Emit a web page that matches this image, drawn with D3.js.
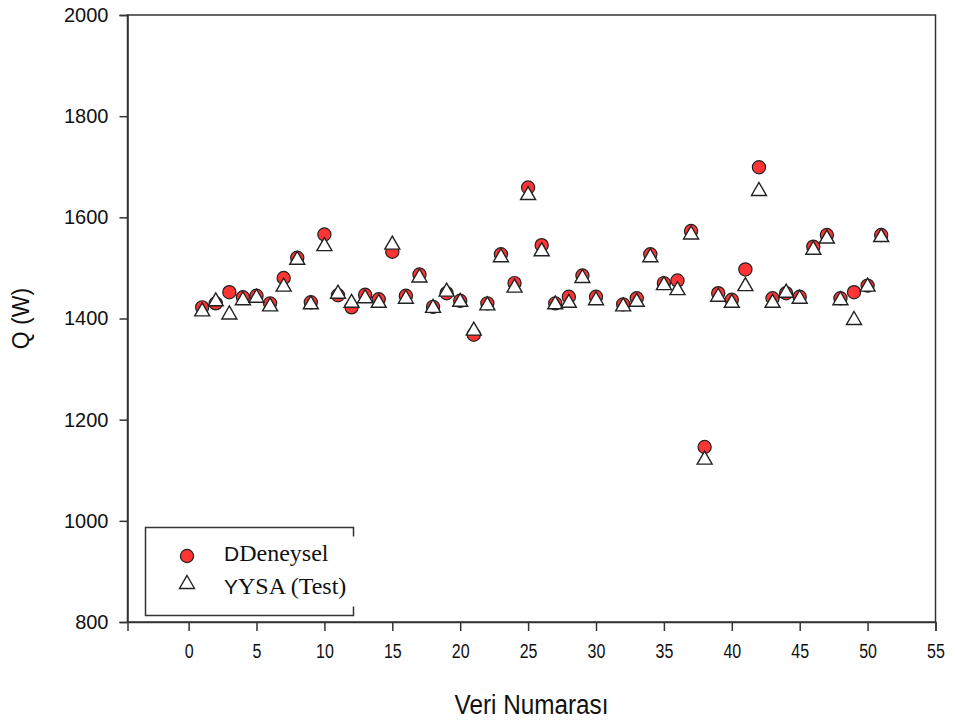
<!DOCTYPE html>
<html>
<head>
<meta charset="utf-8">
<script src="https://cdn.jsdelivr.net/npm/d3@7"></script>
<style>
  html, body { margin: 0; padding: 0; background: #fff; }
  svg { display: block; }
</style>
</head>
<body>
<svg id="chart" width="955" height="726"></svg>
<script>
// Veri numaraları (31 numaralı veri yok)
const veriNo = [1,2,3,4,5,6,7,8,9,10,11,12,13,14,15,16,17,18,19,20,
  21,22,23,24,25,26,27,28,29,30,32,33,34,35,36,37,38,39,40,41,
  42,43,44,45,46,47,48,49,50,51];

// Deneysel ısı transferi değerleri, Q (W)
const deneysel = [1422,1430,1452,1442,1445,1430,1480,1520,1432,1566,
  1446,1422,1447,1438,1532,1445,1487,1423,1450,1435,
  1368,1430,1527,1470,1659,1545,1430,1443,1485,1443,
  1428,1440,1527,1470,1475,1573,1146,1450,1437,1497,
  1699,1440,1450,1443,1542,1565,1440,1452,1465,1565];

// YSA (Test) tahmin değerleri, Q (W)
const ysa = [1418,1438,1412,1440,1445,1428,1467,1520,1432,1547,
  1453,1435,1444,1435,1550,1443,1485,1425,1457,1437,
  1380,1430,1525,1465,1648,1537,1432,1435,1484,1440,
  1428,1437,1525,1470,1460,1570,1125,1447,1435,1468,
  1656,1435,1455,1443,1540,1562,1440,1401,1467,1565];

const xTicks = [0,5,10,15,20,25,30,35,40,45,50,55];
const yTicks = [800,1000,1200,1400,1600,1800,2000];

const svg = d3.select("#chart");
const plotL = 127.5, plotR = 935.5, plotT = 15, plotB = 622;

const x = d3.scaleLinear().domain([-4.5, 55]).range([plotL, plotR]);
const y = d3.scaleLinear().domain([800, 2000]).range([plotB, plotT]);

const sans = "'Liberation Sans', Arial, sans-serif";
const serif = "'Liberation Serif', 'Times New Roman', serif";

// Çerçeve
svg.append("rect")
  .attr("x", plotL).attr("y", plotT)
  .attr("width", plotR - plotL).attr("height", plotB - plotT)
  .attr("fill", "none").attr("stroke", "#333").attr("stroke-width", 1.5);

// Y ekseni
const yAxis = svg.append("g")
  .attr("transform", `translate(${plotL},0)`)
  .call(d3.axisLeft(y).tickValues(yTicks).tickSize(8).tickPadding(11).tickFormat(d3.format("d")));
yAxis.select(".domain").attr("stroke", "#333").attr("stroke-width", 1.5);
yAxis.selectAll(".tick line").attr("stroke", "#333").attr("stroke-width", 1.5);
yAxis.selectAll(".tick text")
  .attr("font-family", sans).attr("font-size", 20).attr("fill", "#111");

// X ekseni (dar yazı)
const xAxis = svg.append("g")
  .attr("transform", `translate(0,${plotB})`)
  .call(d3.axisBottom(x).tickValues(xTicks).tickSize(9).tickPadding(13).tickFormat(d3.format("d")));
xAxis.select(".domain").attr("stroke", "#333").attr("stroke-width", 1.5);
xAxis.selectAll(".tick line").attr("stroke", "#333").attr("stroke-width", 1.5);
xAxis.selectAll(".tick text")
  .attr("font-family", sans).attr("font-size", 20).attr("fill", "#111")
  .attr("transform", "scale(0.8,1)");

// Eksen başlıkları
svg.append("text")
  .attr("transform", `translate(${(plotL + plotR) / 2},714) scale(0.9,1)`)
  .attr("text-anchor", "middle")
  .attr("font-family", sans).attr("font-size", 27).attr("fill", "#111")
  .text("Veri Numarası");

svg.append("text")
  .attr("transform", `translate(29,${(plotT + plotB) / 2}) rotate(-90)`)
  .attr("text-anchor", "middle")
  .attr("font-family", sans).attr("font-size", 23).attr("fill", "#111")
  .text("Q (W)");

// Üçgen işaretçi yolu (merkez: sınır kutusunun ortası)
function trianglePath(cx, cy, w, h) {
  return `M${cx},${cy - h / 2}L${cx + w / 2},${cy + h / 2}L${cx - w / 2},${cy + h / 2}Z`;
}

const points = veriNo.map((n, i) => ({ n, d: deneysel[i], t: ysa[i] }));

// Deneysel noktalar
svg.append("g").selectAll("circle")
  .data(points).join("circle")
  .attr("cx", p => x(p.n)).attr("cy", p => y(p.d))
  .attr("r", 6.6)
  .attr("fill", "#ff3434").attr("stroke", "#222").attr("stroke-width", 1.2);

// YSA (Test) noktaları
svg.append("g").selectAll("path")
  .data(points).join("path")
  .attr("d", p => trianglePath(x(p.n), y(p.t), 15, 13))
  .attr("fill", "#fff").attr("stroke", "#222").attr("stroke-width", 1.4);

// Açıklama kutusu
const lg = svg.append("g").attr("stroke", "#333").attr("stroke-width", 1.5).attr("fill", "none");
const lx0 = 145.5, lx1 = 353.5, ly0 = 527.5, ly1 = 615.5;
lg.append("path").attr("d",
  `M${lx1},${ly0 + 9}V${ly0}H${lx0}V${ly1}H${lx1}V${ly1 - 9}`);

svg.append("circle")
  .attr("cx", 187).attr("cy", 556).attr("r", 6.6)
  .attr("fill", "#ff3434").attr("stroke", "#222").attr("stroke-width", 1.2);
svg.append("path")
  .attr("d", trianglePath(187, 582, 15, 13))
  .attr("fill", "#fff").attr("stroke", "#222").attr("stroke-width", 1.4);

const legendItems = [
  { key: "D", label: "Deneysel", y: 561 },
  { key: "Y", label: "YSA (Test)", y: 594 }
];
legendItems.forEach(item => {
  const t = svg.append("text").attr("x", 224).attr("y", item.y).attr("fill", "#111");
  t.append("tspan").attr("font-family", sans).attr("font-size", 21).text(item.key);
  t.append("tspan").attr("font-family", serif).attr("font-size", 24).text(item.label);
});
</script>
</body>
</html>
